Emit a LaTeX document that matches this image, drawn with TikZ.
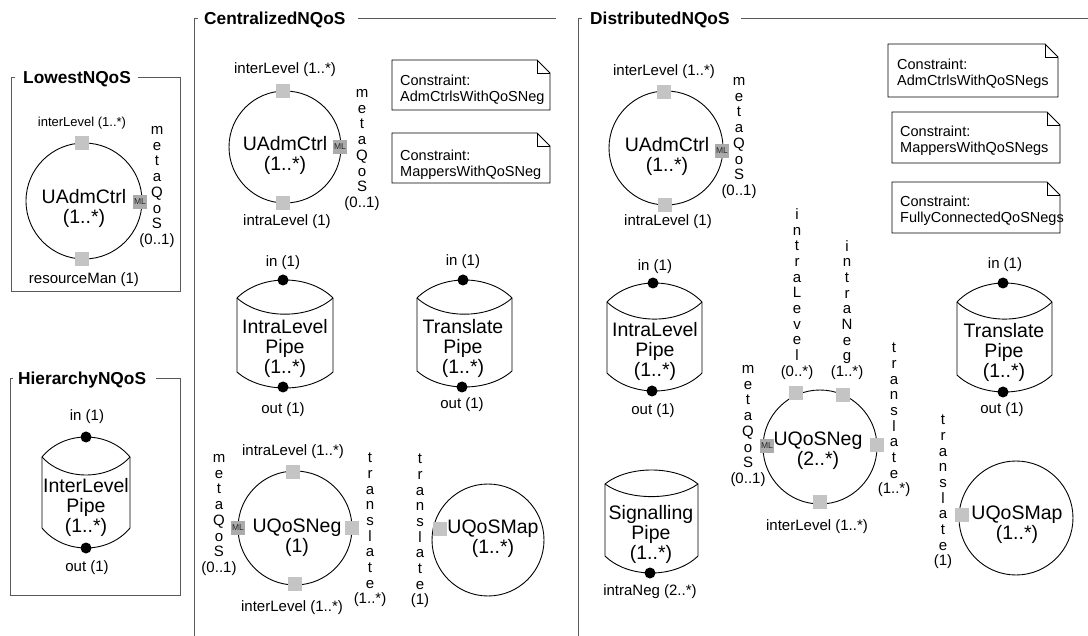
\documentclass[tikz,border=0pt]{standalone}
\usepackage{fontspec}
\setmainfont{Liberation Sans}

% pipe outline: #1 left x, #2 right x, #3 top corner y, #4 bottom corner y, #5 top bulge, #6 bottom bulge
\newcommand\drawpipe[6]{%
  \draw[shapeline,fill=white] (#1,#3)
    .. controls ({#1+0.25*(#2-#1)},{#3-1.333*#5}) and ({#2-0.25*(#2-#1)},{#3-1.333*#5}) .. (#2,#3)
    -- (#2,#4)
    .. controls ({#2-0.25*(#2-#1)},{#4+1.333*#6}) and ({#1+0.25*(#2-#1)},{#4+1.333*#6}) .. (#1,#4)
    -- cycle;
  \draw[shapeline] (#1,#3)
    .. controls ({#1+0.25*(#2-#1)},{#3+1.2*#5}) and ({#2-0.25*(#2-#1)},{#3+1.2*#5}) .. (#2,#3);
}
% note with a folded corner: #1 left, #2 top, #3 right, #4 bottom
\newcommand\drawnote[4]{%
  \draw[shapeline,fill=white] (#1,#2) -- ({#3-13},#2) -- (#3,{#2+13}) -- (#3,#4) -- (#1,#4) -- cycle;
  \draw[shapeline] ({#3-13},#2) -- ({#3-13},{#2+13}) -- (#3,{#2+13});
}

\tikzset{
  frameline/.style={draw=black!65, line width=1pt},
  frametitle/.style={font=\bfseries\fontsize{17.3}{18}\selectfont, inner sep=0pt, anchor=west},
  shapeline/.style={draw=black, line width=0.9pt},
  partcircle/.style={circle, draw=black, line width=0.9pt, inner sep=0pt, minimum size=#1},
  portbox/.style={fill=black!23, minimum size=14pt, inner sep=0pt},
  mlbox/.style={fill=black!33, minimum size=14pt, inner sep=0pt, font=\fontsize{8.5}{8.5}\selectfont, text=black!85},
  pindot/.style={circle, fill=black, minimum size=11pt, inner sep=0pt},
  lbl/.style={font=\fontsize{15}{15}\selectfont, inner sep=0pt},
  smalllbl/.style={font=\fontsize{13}{13}\selectfont, inner sep=0pt},
  vstack/.style={font=\fontsize{15}{15.7}\selectfont, align=center, inner sep=0pt},
  parttext/.style={font=\fontsize{19.5}{20}\selectfont, align=center, inner sep=0pt},
  notetext/.style={font=\fontsize{14.5}{16.5}\selectfont, align=left, inner sep=0pt, anchor=west},
}

\begin{document}
\begin{tikzpicture}[x=1pt,y=-1pt]
\useasboundingbox (0,0) rectangle (1088,636);
\fill[white] (0,0) rectangle (1088,636);

% ---------------- LowestNQoS ----------------
\node[frametitle] (lowT) at (23,79) {LowestNQoS};
\draw[frameline] (15,78) -- (11,78) -- (11,292) -- (180,292) -- (180,78) -- (138,78);

\node[partcircle=116pt] (lowAdm) at (84,201) {};
\node[parttext] (lowAdmT) at (84,208) {UAdmCtrl\\(1..*)};
\node[portbox] (lowAdmTop) at (82,143) {};
\node[portbox] (lowAdmBot) at (82,259) {};
\node[mlbox] (lowAdmML) at (140,202) {ML};
\node[smalllbl] (lowAdmTopL) at (82,123) {interLevel (1..*)};
\node[lbl] (lowAdmBotL) at (84,280) {resourceMan (1)};
\node[vstack] (lowAdmMQ) at (157,187) {m\\e\\t\\a\\Q\\o\\S\\(0..1)};

% ---------------- HierarchyNQoS ----------------
\node[frametitle] (hieT) at (18,380) {HierarchyNQoS};
\draw[frameline] (13,379) -- (10,379) -- (10,595) -- (180,595) -- (180,379) -- (156,379);

\drawpipe{42}{130}{457}{528}{20}{20}
\node[parttext] (hiePipeT) at (86,507) {InterLevel\\Pipe\\(1..*)};
\node[pindot] (hiePipeIn) at (86,437) {};
\node[pindot] (hiePipeOut) at (86,548) {};
\node[lbl] (hiePipeInL) at (87,417) {in (1)};
\node[lbl] (hiePipeOutL) at (87,568) {out (1)};

% ---------------- CentralizedNQoS ----------------
\node[frametitle] (cenT) at (204,20) {CentralizedNQoS};
\draw[frameline] (198,19) -- (194,19) -- (194,636);
\draw[frameline] (358,19) -- (556,19);

\node[partcircle=112pt] (cenAdm) at (285,147) {};
\node[parttext] (cenAdmT) at (285,155) {UAdmCtrl\\(1..*)};
\node[portbox] (cenAdmTop) at (283,91) {};
\node[portbox] (cenAdmBot) at (283,203) {};
\node[mlbox] (cenAdmML) at (340,147) {ML};
\node[lbl] (cenAdmTopL) at (285,70) {interLevel (1..*)};
\node[lbl] (cenAdmBotL) at (287,222) {intraLevel (1)};
\node[vstack] (cenAdmMQ) at (362,150) {m\\e\\t\\a\\Q\\o\\S\\(0..1)};

\drawnote{392}{60}{550}{110}
\node[notetext] (cenNote1) at (400,90) {Constraint:\\AdmCtrlsWithQoSNeg};
\drawnote{392}{133}{550}{183}
\node[notetext] (cenNote2) at (400,165) {Constraint:\\MappersWithQoSNeg};

\drawpipe{237}{333}{298}{372}{18}{16}
\node[parttext] (cenIntraT) at (285,348) {IntraLevel\\Pipe\\(1..*)};
\node[pindot] (cenIntraIn) at (283,280) {};
\node[pindot] (cenIntraOut) at (283,387) {};
\node[lbl] (cenIntraInL) at (283,263) {in (1)};
\node[lbl] (cenIntraOutL) at (283,410) {out (1)};

\drawpipe{417}{512}{298}{371}{18}{16}
\node[parttext] (cenTransT) at (463,348) {Translate\\Pipe\\(1..*)};
\node[pindot] (cenTransIn) at (463,280) {};
\node[pindot] (cenTransOut) at (462,387) {};
\node[lbl] (cenTransInL) at (463,262) {in (1)};
\node[lbl] (cenTransOutL) at (462,405) {out (1)};

\node[partcircle=114pt] (cenNeg) at (295,528) {};
\node[parttext] (cenNegT) at (297,538) {UQoSNeg\\(1)};
\node[portbox] (cenNegTop) at (293,472) {};
\node[portbox] (cenNegBot) at (295,584) {};
\node[portbox] (cenNegRight) at (352,528) {};
\node[mlbox] (cenNegML) at (238,528) {ML};
\node[lbl] (cenNegTopL) at (293,452) {intraLevel (1..*)};
\node[lbl] (cenNegBotL) at (292,608) {interLevel (1..*)};
\node[vstack] (cenNegMQ) at (219,515) {m\\e\\t\\a\\Q\\o\\S\\(0..1)};
\node[vstack] (cenNegTr) at (370,530) {t\\r\\a\\n\\s\\l\\a\\t\\e\\(1..*)};

\node[partcircle=112pt] (cenMap) at (488,540) {};
\node[parttext] (cenMapT) at (493,539) {UQoSMap\\(1..*)};
\node[portbox] (cenMapLeft) at (440,529) {};
\node[vstack] (cenMapTr) at (420,531) {t\\r\\a\\n\\s\\l\\a\\t\\e\\(1)};

% ---------------- DistributedNQoS ----------------
\node[frametitle] (disT) at (590,20) {DistributedNQoS};
\draw[frameline] (582,19) -- (578,19) -- (578,636);
\draw[frameline] (741,19) -- (1088,19);

\node[partcircle=114pt] (disAdm) at (666,148) {};
\node[parttext] (disAdmT) at (667,156) {UAdmCtrl\\(1..*)};
\node[portbox] (disAdmTop) at (664,92) {};
\node[portbox] (disAdmBot) at (665,205) {};
\node[mlbox] (disAdmML) at (722,151) {ML};
\node[lbl] (disAdmTopL) at (664,72) {interLevel (1..*)};
\node[lbl] (disAdmBotL) at (668,222) {intraLevel (1)};
\node[vstack] (disAdmMQ) at (739,138) {m\\e\\t\\a\\Q\\o\\S\\(0..1)};

\drawnote{888}{44}{1058}{97}
\node[notetext] (disNote1) at (897,74) {Constraint:\\AdmCtrlsWithQoSNegs};
\drawnote{892}{112}{1060}{163}
\node[notetext] (disNote2) at (900,141) {Constraint:\\MappersWithQoSNegs};
\drawnote{892}{182}{1060}{233}
\node[notetext] (disNote3) at (900,211) {Constraint:\\FullyConnectedQoSNegs};

\drawpipe{607}{702}{302}{373}{19}{18}
\node[parttext] (disIntraT) at (655,351) {IntraLevel\\Pipe\\(1..*)};
\node[pindot] (disIntraIn) at (653,283) {};
\node[pindot] (disIntraOut) at (652,391) {};
\node[lbl] (disIntraInL) at (655,267) {in (1)};
\node[lbl] (disIntraOutL) at (653,411) {out (1)};

\drawpipe{605}{698}{484}{556}{14}{17}
\node[parttext] (disSigT) at (651,534) {Signalling\\Pipe\\(1..*)};
\node[pindot] (disSigOut) at (650,573) {};
\node[lbl] (disSigOutL) at (650,592) {intraNeg (2..*)};

\node[partcircle=114pt] (disNeg) at (820,447) {};
\node[parttext] (disNegT) at (818,451) {UQoSNeg\\(2..*)};
\node[portbox] (disNegTopL) at (796,393) {};
\node[portbox] (disNegTopR) at (843,395) {};
\node[portbox] (disNegRight) at (877,445) {};
\node[portbox] (disNegBot) at (820,502) {};
\node[mlbox] (disNegML) at (767,446) {ML};
\node[lbl] (disNegBotL) at (817,527) {interLevel (1..*)};
\node[vstack] (disNegIL) at (797,294) {i\\n\\t\\r\\a\\L\\e\\v\\e\\l\\(0..*)};
\node[vstack] (disNegIN) at (847,310) {i\\n\\t\\r\\a\\N\\e\\g\\(1..*)};
\node[vstack] (disNegMQ) at (748,426) {m\\e\\t\\a\\Q\\o\\S\\(0..1)};
\node[vstack] (disNegTr) at (894,420) {t\\r\\a\\n\\s\\l\\a\\t\\e\\(1..*)};

\drawpipe{957}{1052}{302}{375}{19}{17}
\node[parttext] (disTransT) at (1004,352) {Translate\\Pipe\\(1..*)};
\node[pindot] (disTransIn) at (1003,283) {};
\node[pindot] (disTransOut) at (1003,392) {};
\node[lbl] (disTransInL) at (1005,265) {in (1)};
\node[lbl] (disTransOutL) at (1002,410) {out (1)};

\node[partcircle=114pt] (disMap) at (1016,518) {};
\node[parttext] (disMapT) at (1017,525) {UQoSMap\\(1..*)};
\node[portbox] (disMapLeft) at (962,515) {};
\node[vstack] (disMapTr) at (943,492) {t\\r\\a\\n\\s\\l\\a\\t\\e\\(1)};
\end{tikzpicture}
\end{document}
